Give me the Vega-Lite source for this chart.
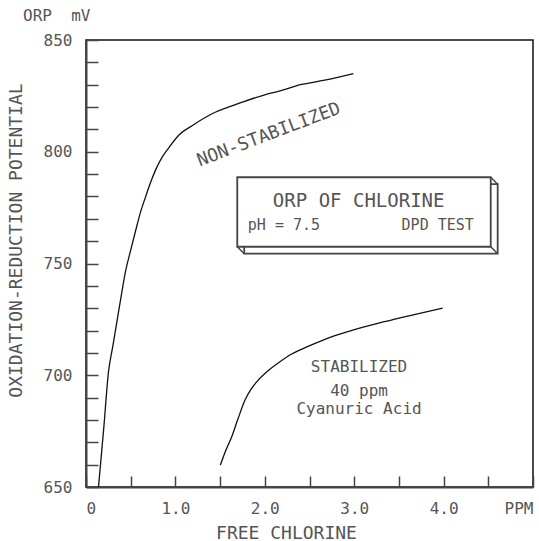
{
  "$schema": "https://vega.github.io/schema/vega-lite/v6.json",
  "width": 447,
  "height": 447,
  "autosize": {"type": "none"},
  "padding": {"left": 86, "top": 40, "right": 6, "bottom": 54},
  "background": "white",
  "config": {"view": {"stroke": "#111", "strokeWidth": 1.5}, "font": "DejaVu Sans Mono"},
  "title": {"text": "ORP\u00a0\u00a0mV", "anchor": "start", "frame": "group", "dx": -63, "dy": 22, "offset": 17, "baseline": "alphabetic", "fontSize": 16, "fontWeight": "normal", "color": "#555", "font": "DejaVu Sans Mono"},
  "encoding": {
    "x": {"field": "x", "type": "quantitative", "scale": {"domain": [0, 5], "nice": false, "zero": false},
      "axis": {"values": [0, 0.5, 1, 1.5, 2, 2.5, 3, 3.5, 4, 4.5, 5],
        "labelExpr": "datum.value == 5 ? 'PPM' : (datum.value == 0 ? '0' : (datum.value % 1 == 0 ? format(datum.value, '.1f') : ''))",
        "tickSize": -11, "tickColor": "#444", "tickWidth": 1.5, "domainColor": "#444", "domainWidth": 2,
        "labelPadding": 24, "labelFontSize": 16, "labelColor": "#555", "labelFont": "DejaVu Sans Mono", "labelOverlap": false,
        "title": "FREE CHLORINE", "titleFont": "DejaVu Sans Mono", "titleFontSize": 18, "titleFontWeight": "normal", "titleColor": "#555",
        "titleX": 200, "titleY": 46, "titleBaseline": "middle", "titleAlign": "center", "grid": false}},
    "y": {"field": "y", "type": "quantitative", "scale": {"domain": [650, 850], "nice": false, "zero": false},
      "axis": {"values": [650, 660, 670, 680, 690, 700, 710, 720, 730, 740, 750, 760, 770, 780, 790, 800, 810, 820, 830, 840, 850],
        "labelExpr": "datum.value % 50 == 0 ? datum.label : ''",
        "tickSize": -12, "tickColor": "#444", "tickWidth": 1.5, "domainColor": "#444", "domainWidth": 2,
        "labelPadding": 26, "labelFontSize": 16, "labelColor": "#555", "labelFont": "DejaVu Sans Mono", "labelOverlap": false,
        "title": "OXIDATION-REDUCTION POTENTIAL", "titleFont": "DejaVu Sans Mono", "titleFontSize": 18, "titleFontWeight": "normal", "titleColor": "#555",
        "titleX": -70, "titleY": 200, "titleAngle": 270, "titleBaseline": "middle", "titleAlign": "center", "grid": false}}
  },
  "layer": [
    {
      "data": {"values": [
        {"series": "N", "x": 0.14, "y": 650}, {"series": "N", "x": 0.2, "y": 677}, {"series": "N", "x": 0.25, "y": 701},
        {"series": "N", "x": 0.3, "y": 713}, {"series": "N", "x": 0.35, "y": 725}, {"series": "N", "x": 0.4, "y": 737},
        {"series": "N", "x": 0.445, "y": 747}, {"series": "N", "x": 0.5, "y": 756}, {"series": "N", "x": 0.557, "y": 765},
        {"series": "N", "x": 0.61, "y": 773}, {"series": "N", "x": 0.668, "y": 780}, {"series": "N", "x": 0.72, "y": 786},
        {"series": "N", "x": 0.78, "y": 792}, {"series": "N", "x": 0.85, "y": 797.5}, {"series": "N", "x": 0.93, "y": 802},
        {"series": "N", "x": 1.04, "y": 807.5}, {"series": "N", "x": 1.2, "y": 812}, {"series": "N", "x": 1.41, "y": 817},
        {"series": "N", "x": 1.7, "y": 821.5}, {"series": "N", "x": 2.0, "y": 825.5}, {"series": "N", "x": 2.15, "y": 827},
        {"series": "N", "x": 2.4, "y": 830}, {"series": "N", "x": 2.67, "y": 832}, {"series": "N", "x": 2.99, "y": 835},
        {"series": "S", "x": 1.503, "y": 659.8}, {"series": "S", "x": 1.56, "y": 666}, {"series": "S", "x": 1.63, "y": 672.5},
        {"series": "S", "x": 1.7, "y": 680.5}, {"series": "S", "x": 1.78, "y": 689}, {"series": "S", "x": 1.85, "y": 694},
        {"series": "S", "x": 1.93, "y": 698}, {"series": "S", "x": 2.05, "y": 702.5}, {"series": "S", "x": 2.15, "y": 705.5},
        {"series": "S", "x": 2.3, "y": 709.5}, {"series": "S", "x": 2.49, "y": 713}, {"series": "S", "x": 2.7, "y": 716.5},
        {"series": "S", "x": 2.93, "y": 719.5}, {"series": "S", "x": 3.1, "y": 721.5}, {"series": "S", "x": 3.34, "y": 724},
        {"series": "S", "x": 3.6, "y": 726.5}, {"series": "S", "x": 3.99, "y": 730}
      ]},
      "mark": {"type": "line", "interpolate": "monotone", "color": "#111", "strokeWidth": 1.3},
      "encoding": {"detail": {"field": "series"}}
    },
    {
      "data": {"values": [{"x": 1.77, "x2": 4.605, "y": 754.4, "y2": 785.5}]},
      "mark": {"type": "rect", "fill": "white", "stroke": "#444", "strokeWidth": 1.8},
      "encoding": {"x2": {"field": "x2"}, "y2": {"field": "y2"}}
    },
    {
      "data": {"values": [
        {"x": 4.527, "x2": 4.605, "y": 788.6, "y2": 785.5},
        {"x": 1.692, "x2": 1.77, "y": 757.5, "y2": 754.4},
        {"x": 4.527, "x2": 4.605, "y": 757.5, "y2": 754.4}
      ]},
      "mark": {"type": "rule", "color": "#444", "strokeWidth": 1.5},
      "encoding": {"x2": {"field": "x2"}, "y2": {"field": "y2"}}
    },
    {
      "data": {"values": [{"x": 1.692, "x2": 4.527, "y": 757.5, "y2": 788.6}]},
      "mark": {"type": "rect", "fill": "white", "stroke": "#444", "strokeWidth": 1.8},
      "encoding": {"x2": {"field": "x2"}, "y2": {"field": "y2"}}
    },
    {
      "data": {"values": [{"label": "ORP OF CHLORINE", "x": 3.05, "y": 775.1}]},
      "mark": {"type": "text", "align": "center", "baseline": "alphabetic", "fontSize": 19, "color": "#555", "font": "DejaVu Sans Mono"},
      "encoding": {"text": {"field": "label"}}
    },
    {
      "data": {"values": [{"label": "pH = 7.5", "x": 1.81, "y": 765}, {"label": "DPD TEST", "x": 3.53, "y": 765}]},
      "mark": {"type": "text", "align": "left", "baseline": "alphabetic", "fontSize": 15, "color": "#555", "font": "DejaVu Sans Mono"},
      "encoding": {"text": {"field": "label"}}
    },
    {
      "data": {"values": [{"label": "NON-STABILIZED", "x": 2.047, "y": 807.5}]},
      "mark": {"type": "text", "align": "center", "baseline": "middle", "angle": -20.7, "fontSize": 18, "color": "#555", "font": "DejaVu Sans Mono"},
      "encoding": {"text": {"field": "label"}}
    },
    {
      "data": {"values": [
        {"label": "STABILIZED", "x": 3.054, "y": 701.5},
        {"label": "40 ppm", "x": 3.054, "y": 690.9},
        {"label": "Cyanuric Acid", "x": 3.054, "y": 682.8}
      ]},
      "mark": {"type": "text", "align": "center", "baseline": "alphabetic", "fontSize": 16, "color": "#555", "font": "DejaVu Sans Mono"},
      "encoding": {"text": {"field": "label"}}
    }
  ]
}
